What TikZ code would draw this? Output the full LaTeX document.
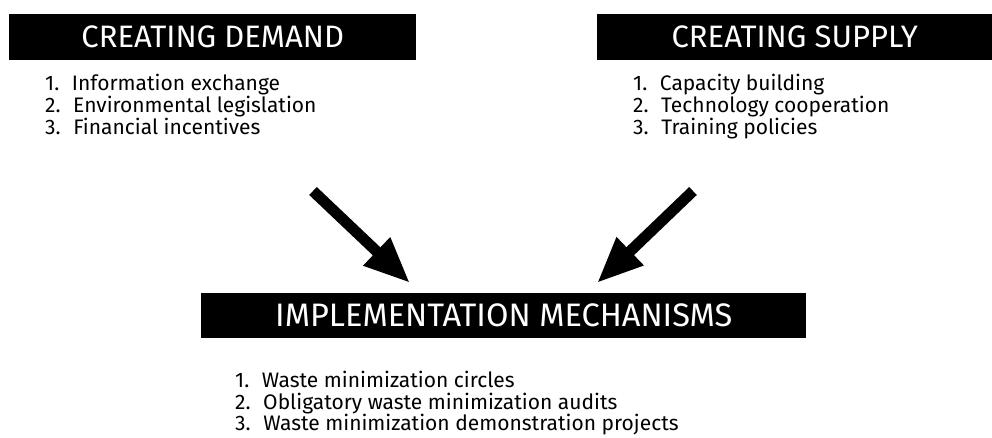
\documentclass[tikz,border=0pt]{standalone}
\usepackage{fontspec}
\setmainfont{Fira Sans}
\usetikzlibrary{arrows.meta}
\tikzset{
  titlebox/.style={fill=black, draw=none, inner sep=0pt, minimum height=46pt},
  titletext/.style={text=white, font=\fontsize{31}{34}\selectfont, inner sep=0pt},
  listtext/.style={font=\fontsize{21}{20}\selectfont, align=left, anchor=north west, inner sep=0pt},
  bigarrow/.style={line width=11pt, -{Triangle[length=46pt, width=36pt]}, draw=black}
}
\begin{document}
\begin{tikzpicture}[x=1pt,y=-1pt]
\useasboundingbox (0,0) rectangle (992,437);
% boxes
\node[titlebox, minimum width=407pt, anchor=north west] (dbox) at (9,14) {};
\node[titlebox, minimum width=395pt, anchor=north west] (sbox) at (597,14) {};
\node[titlebox, minimum width=605pt, minimum height=45pt, anchor=north west] (ibox) at (201,293) {};
% titles
\node[titletext] (dtitle) at (dbox.center) {CREATING DEMAND};
\node[titletext] (stitle) at (sbox.center) {CREATING SUPPLY};
\node[titletext, font=\fontsize{32.5}{35}\selectfont] (ititle) at (ibox.center) {IMPLEMENTATION MECHANISMS};
% lists
\node[listtext] (dlist) at (45,74) {1.\hspace{0.6em}Information exchange\\2.\hspace{0.6em}Environmental legislation\\3.\hspace{0.6em}Financial incentives};
\node[listtext] (slist) at (633,74) {1.\hspace{0.6em}Capacity building\\2.\hspace{0.6em}Technology cooperation\\3.\hspace{0.6em}Training policies};
\node[listtext, font=\fontsize{21}{21.5}\selectfont] (ilist) at (235,371) {1.\hspace{0.6em}Waste minimization circles\\2.\hspace{0.6em}Obligatory waste minimization audits\\3.\hspace{0.6em}Waste minimization demonstration projects};
% arrows
\coordinate (dtail) at (313,191);
\coordinate (dtip) at (410,283);
\coordinate (stail) at (693,191);
\coordinate (stip) at (597,283);
\draw[bigarrow] (dtail) -- (dtip);
\draw[bigarrow] (stail) -- (stip);
\end{tikzpicture}
\end{document}
